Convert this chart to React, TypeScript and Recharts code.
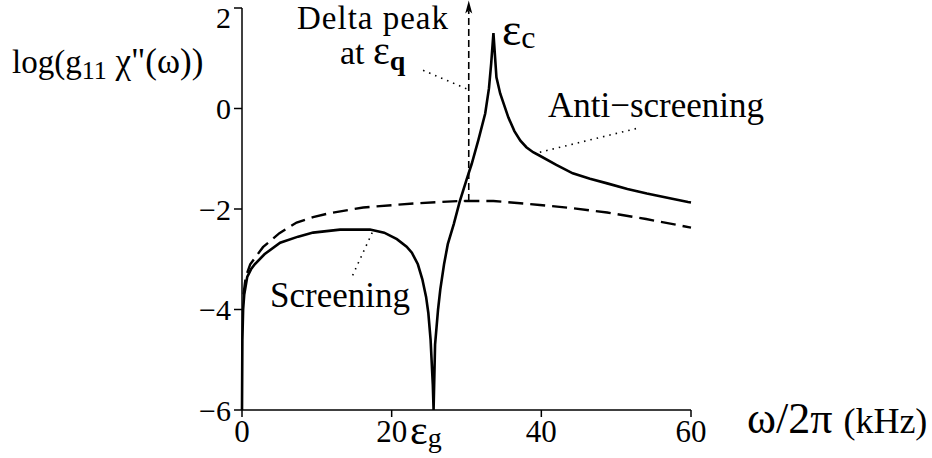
import { LineChart, Line, XAxis, YAxis, ReferenceLine } from "recharts"

const serif = "'Liberation Serif', 'Times New Roman', 'DejaVu Serif', serif"

// solid curve: log(g11 chi''(w)) with screening dip at eps_g and peak at eps_c
const solidX = [0, 0.05, 0.15, 0.3, 0.7, 1.2, 1.7, 3, 5.1, 7.5, 9.5, 13.1, 17.1, 19, 20.7, 22, 22.7, 23.5, 24.1, 24.6, 24.9, 25.2, 25.5, 25.6, 25.8, 26.2, 26.5, 27, 27.5, 28.3, 29.1, 30, 30.7, 31.6, 32.5, 33, 33.3, 33.6, 34, 34.5, 35.6, 36.4, 37.2, 38, 38.9, 39.8, 42, 44.2, 46.5, 48.8, 51.5, 54.1, 57, 59.6, 60]
const solidY = [-6, -4.6, -4.0, -3.7, -3.35, -3.2, -3.1, -2.9, -2.67, -2.55, -2.47, -2.41, -2.41, -2.47, -2.6, -2.75, -2.87, -3.1, -3.4, -3.75, -4.07, -4.6, -5.5, -6, -4.7, -4.0, -3.6, -3.1, -2.7, -2.3, -1.85, -1.42, -1.1, -0.62, -0.1, 0.4, 0.9, 1.5, 0.62, 0.3, -0.18, -0.45, -0.64, -0.77, -0.87, -0.94, -1.12, -1.29, -1.4, -1.49, -1.6, -1.69, -1.78, -1.86, -1.87]

// dashed curve
const dashX = [0.2, 0.5, 1.1, 2.8, 5, 7.3, 9.5, 11.8, 16.2, 22.9, 29.1, 33.6, 39.8, 44, 48.8, 54, 60]
const dashY = [-3.7, -3.35, -3.1, -2.76, -2.48, -2.27, -2.16, -2.08, -1.97, -1.89, -1.84, -1.84, -1.92, -1.98, -2.07, -2.2, -2.37]

const xTicks = [0, 20, 40, 60]
const yTicks = [-6, -4, -2, 0, 2]

// delta peak position
const deltaX = 30.3
const deltaFrom = -1.84
const deltaTo = 2.15

const solidData = solidX.map((x, i) => ({ x, v: solidY[i] }))
const dashData = dashX.map((x, i) => ({ x, v: dashY[i] }))

const Arrow = (props: any) => {
  const { x1, y1, x2, y2 } = props
  return (
    <g>
      <line x1={x1} y1={y1} x2={x2} y2={y2 + 10} stroke="#000" strokeWidth={1.6} strokeDasharray="7 4" />
      <line x1={x1 - 5} y1={y1} x2={x1 + 5} y2={y1} stroke="#000" strokeWidth={1.6} />
      <path d={`M${x2},${y2} L${x2 - 3.5},${y2 + 13} L${x2},${y2 + 10} L${x2 + 3.5},${y2 + 13} Z`} fill="#000" />
    </g>
  )
}

export default function App() {
  return (
    <div style={{ position: "absolute", left: 0, top: 0, width: 932, height: 458, background: "#fff" }}>
      <LineChart width={932} height={458} margin={{ top: 8, right: 241, bottom: 0, left: 0 }}>
        <XAxis
          type="number"
          dataKey="x"
          domain={[0, 60]}
          ticks={xTicks}
          height={48}
          tickSize={7}
          tickMargin={3}
          stroke="#000"
          strokeWidth={1.5}
          tick={{ fontSize: 31, fill: "#000", style: { fontFamily: serif } }}
          allowDuplicatedCategory={false}
        />
        <YAxis
          type="number"
          dataKey="v"
          domain={[-6, 2]}
          ticks={yTicks}
          width={242}
          tickSize={8}
          tickMargin={3}
          stroke="#000"
          strokeWidth={1.5}
          tick={{ fontSize: 30, fill: "#000", style: { fontFamily: serif } }}
          tickFormatter={(v: number) => (v < 0 ? `\u2212${-v}` : `${v}`)}
        />
        <ReferenceLine
          segment={[{ x: 24.2, y: 0.76 }, { x: 30.2, y: 0.38 }]}
          stroke="#000"
          strokeWidth={1.6}
          strokeDasharray="1.5 5"
          ifOverflow="visible"
        />
        <ReferenceLine
          segment={[{ x: 39.8, y: -0.87 }, { x: 53.2, y: -0.38 }]}
          stroke="#000"
          strokeWidth={1.6}
          strokeDasharray="1.5 5"
          ifOverflow="visible"
        />
        <ReferenceLine
          segment={[{ x: 17.4, y: -2.47 }, { x: 14.6, y: -3.38 }]}
          stroke="#000"
          strokeWidth={1.6}
          strokeDasharray="1.5 5"
          ifOverflow="visible"
        />
        <ReferenceLine
          segment={[{ x: deltaX, y: deltaFrom }, { x: deltaX, y: deltaTo }]}
          ifOverflow="visible"
          shape={Arrow}
        />
        <Line
          data={dashData}
          dataKey="v"
          type="linear"
          stroke="#000"
          strokeWidth={2.4}
          strokeDasharray="15 7"
          dot={false}
          isAnimationActive={false}
        />
        <Line
          data={solidData}
          dataKey="v"
          type="linear"
          stroke="#000"
          strokeWidth={2.6}
          dot={false}
          isAnimationActive={false}
        />
      </LineChart>
      <svg
        width={932}
        height={458}
        style={{ position: "absolute", left: 0, top: 0, pointerEvents: "none", fontFamily: serif }}
        fill="#000"
      >
        <text x={12} y={73} fontSize={33}>
          log(g<tspan fontSize={26} dy={6}>11</tspan>
          <tspan dy={-6} fontSize={35}> χ"(ω))</tspan>
        </text>
        <text x={373} y={29} fontSize={33} textAnchor="middle" letterSpacing={1}>Delta peak</text>
        <text x={340} y={64} fontSize={34}>
          at <tspan fontSize={40}>ε</tspan>
          <tspan fontSize={28} fontWeight="bold" dy={6}>q</tspan>
        </text>
        <text x={502} y={45} fontSize={46}>
          ε<tspan fontSize={32} dy={3}>c</tspan>
        </text>
        <text x={410} y={444} fontSize={42}>
          ε<tspan fontSize={28} dy={3}>g</tspan>
        </text>
        <text x={548} y={117} fontSize={35}>Anti−screening</text>
        <text x={270} y={307} fontSize={35}>Screening</text>
        <text x={747} y={433} fontSize={44}>
          ω/2π <tspan fontSize={36}>(kHz)</tspan>
        </text>
      </svg>
    </div>
  )
}
